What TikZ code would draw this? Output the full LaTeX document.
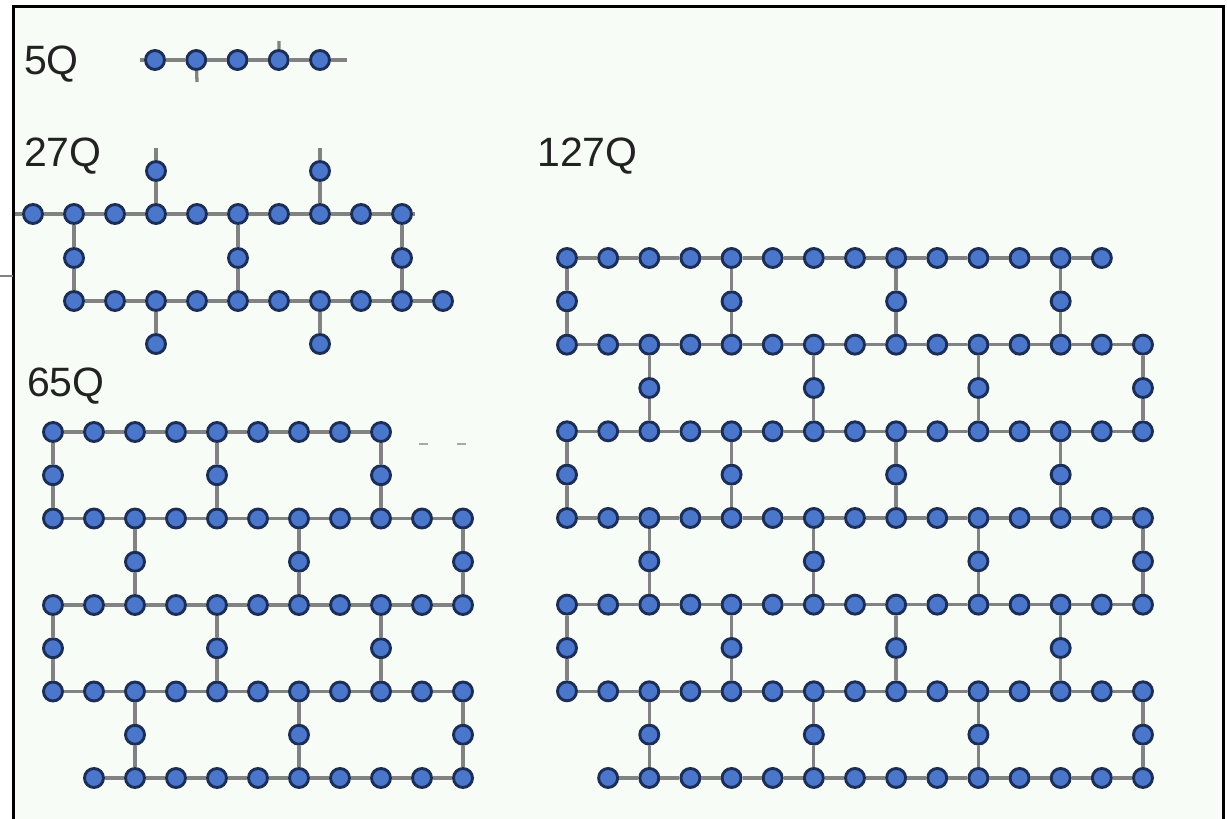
\documentclass[tikz,border=0pt]{standalone}
\usepackage{fontspec}
\setmainfont{Liberation Sans}
\definecolor{qfill}{RGB}{74,118,204}
\definecolor{qborder}{RGB}{28,46,86}
\definecolor{linkgray}{RGB}{130,130,130}
\definecolor{bgcol}{RGB}{247,252,247}
\definecolor{labelcol}{RGB}{34,34,34}
\begin{document}
\begin{tikzpicture}[x=1pt,y=-1pt,
  qubit/.style={circle,draw=qborder,fill=qfill,line width=2.9pt,minimum size=19pt,inner sep=0pt},
  link/.style={draw=linkgray,line width=3.3pt},
  chiplabel/.style={anchor=base west,inner sep=0pt,font=\fontsize{41}{41}\selectfont,text=labelcol}]
\useasboundingbox (0,0) rectangle (1227,819);
\fill[bgcol] (13.5,6) rectangle (1223.5,819);
\draw[black,line width=3pt] (13.5,819) -- (13.5,6) -- (1223.5,6) -- (1223.5,819);
\draw[linkgray,line width=2pt] (0,275.7) -- (13,275.7);
\draw[linkgray!70,line width=2pt] (419,444) -- (428,444);
\draw[linkgray!70,line width=2pt] (457,444) -- (466,444);

% labels
\node[chiplabel] (l5) at (24,74) {5Q};
\node[chiplabel] (l27) at (24,166) {27Q};
\node[chiplabel] (l65) at (27,396) {65Q};
\node[chiplabel] (l127) at (537,166) {127Q};

% ---------- 5Q ----------
\foreach \k in {0,...,4} \node[qubit] (f-\k) at ({155+41.25*\k},60) {};
\coordinate (f-l) at (140,60);
\coordinate (f-r) at (347,60);
\coordinate (f-d) at (197,82);
\coordinate (f-u) at (279,41);
\draw[link] (f-l) -- (f-0);
\foreach \k in {0,...,3} {\pgfmathtruncatemacro\kn{\k+1}\draw[link] (f-\k) -- (f-\kn);}
\draw[link] (f-4) -- (f-r);
\draw[link] (f-1) -- (f-d);
\draw[link] (f-3) -- (f-u);

% ---------- 27Q ----------
\foreach \k in {3,7} \node[qubit] (t-0-\k) at ({33+41*\k},171) {};
\foreach \k in {0,...,9} \node[qubit] (t-1-\k) at ({33+41*\k},214) {};
\foreach \k in {1,5,9} \node[qubit] (t-2-\k) at ({33+41*\k},258) {};
\foreach \k in {1,...,10} \node[qubit] (t-3-\k) at ({33+41*\k},301) {};
\foreach \k in {3,7} \node[qubit] (t-4-\k) at ({33+41*\k},344) {};
\foreach \k in {0,...,8} {\pgfmathtruncatemacro\kn{\k+1}\draw[link] (t-1-\k) -- (t-1-\kn);}
\foreach \k in {1,...,9} {\pgfmathtruncatemacro\kn{\k+1}\draw[link] (t-3-\k) -- (t-3-\kn);}
\foreach \k in {3,7} {
  \coordinate (t-up-\k) at ({33+41*\k},148);
  \draw[link] (t-up-\k) -- (t-0-\k);
  \draw[link] (t-0-\k) -- (t-1-\k);
  \draw[link] (t-4-\k) -- (t-3-\k);
}
\foreach \k in {1,5,9} {\draw[link] (t-1-\k) -- (t-2-\k) -- (t-3-\k);}
\coordinate (t-left) at (15,214);
\coordinate (t-right) at (415,214);
\draw[link] (t-left) -- (t-1-0);
\draw[link] (t-1-9) -- (t-right);

% ---------- 65Q ----------
\foreach \k in {0,...,8} \node[qubit] (s-0-\k) at ({53+41*\k},432) {};
\foreach \r in {2,4,6} \foreach \k in {0,...,10} \node[qubit] (s-\r-\k) at ({53+41*\k},{432+43.25*\r}) {};
\foreach \k in {1,...,10} \node[qubit] (s-8-\k) at ({53+41*\k},{432+43.25*8}) {};
\foreach \k in {0,...,7} {\pgfmathtruncatemacro\kn{\k+1}\draw[link] (s-0-\k) -- (s-0-\kn);}
\foreach \r in {2,4,6} \foreach \k in {0,...,9} {\pgfmathtruncatemacro\kn{\k+1}\draw[link] (s-\r-\k) -- (s-\r-\kn);}
\foreach \k in {1,...,9} {\pgfmathtruncatemacro\kn{\k+1}\draw[link] (s-8-\k) -- (s-8-\kn);}
\foreach \r in {1,5} \foreach \k in {0,4,8} {
  \node[qubit] (s-\r-\k) at ({53+41*\k},{432+43.25*\r}) {};
  \pgfmathtruncatemacro\ra{\r-1}\pgfmathtruncatemacro\rb{\r+1}
  \draw[link] (s-\ra-\k) -- (s-\r-\k) -- (s-\rb-\k);
}
\foreach \r in {3,7} \foreach \k in {2,6,10} {
  \node[qubit] (s-\r-\k) at ({53+41*\k},{432+43.25*\r}) {};
  \pgfmathtruncatemacro\ra{\r-1}\pgfmathtruncatemacro\rb{\r+1}
  \draw[link] (s-\ra-\k) -- (s-\r-\k) -- (s-\rb-\k);
}

% ---------- 127Q ----------
\foreach \k in {0,...,13} \node[qubit] (h-0-\k) at ({567+41.14*\k},258) {};
\foreach \r in {2,4,6,8,10} \foreach \k in {0,...,14} \node[qubit] (h-\r-\k) at ({567+41.14*\k},{258+43.33*\r}) {};
\foreach \k in {1,...,14} \node[qubit] (h-12-\k) at ({567+41.14*\k},{258+43.33*12}) {};
\foreach \k in {0,...,12} {\pgfmathtruncatemacro\kn{\k+1}\draw[link] (h-0-\k) -- (h-0-\kn);}
\foreach \r in {2,4,6,8,10} \foreach \k in {0,...,13} {\pgfmathtruncatemacro\kn{\k+1}\draw[link] (h-\r-\k) -- (h-\r-\kn);}
\foreach \k in {1,...,13} {\pgfmathtruncatemacro\kn{\k+1}\draw[link] (h-12-\k) -- (h-12-\kn);}
\foreach \r in {1,5,9} \foreach \k in {0,4,8,12} {
  \node[qubit] (h-\r-\k) at ({567+41.14*\k},{258+43.33*\r}) {};
  \pgfmathtruncatemacro\ra{\r-1}\pgfmathtruncatemacro\rb{\r+1}
  \draw[link] (h-\ra-\k) -- (h-\r-\k) -- (h-\rb-\k);
}
\foreach \r in {3,7,11} \foreach \k in {2,6,10,14} {
  \node[qubit] (h-\r-\k) at ({567+41.14*\k},{258+43.33*\r}) {};
  \pgfmathtruncatemacro\ra{\r-1}\pgfmathtruncatemacro\rb{\r+1}
  \draw[link] (h-\ra-\k) -- (h-\r-\k) -- (h-\rb-\k);
}
\end{tikzpicture}
\end{document}
